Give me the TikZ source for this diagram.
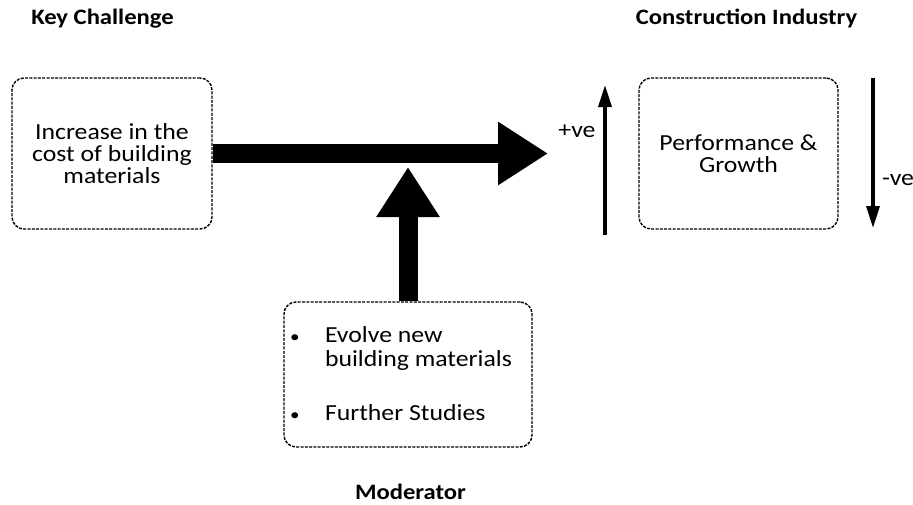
\documentclass[tikz,border=0pt]{standalone}
\usepackage{fontspec}
\setmainfont{Carlito}[FakeStretch=1.12]
\usetikzlibrary{arrows.meta,positioning}

\newcommand{\modbullet}{\hspace*{-2pt}{\fontsize{17}{17}\selectfont\textbullet}}

\begin{document}
\begin{tikzpicture}[x=1pt,y=-1pt]
\tikzset{
  dashbox/.style={draw,rounded corners=12pt,line width=1.4pt,dash pattern=on 3pt off 1.3pt,align=center,inner sep=0pt,font=\fontsize{23}{22}\selectfont},
  heading/.style={anchor=base,font=\fontsize{22}{24}\selectfont\bfseries},
  signtext/.style={font=\fontsize{23}{22}\selectfont},
  blockarrow/.style={line width=19pt,-{Triangle[length=50pt,width=60pt]}},
  signarrow/.style={line width=3.5pt,-{Triangle[length=22pt,width=13pt]}}
}
\useasboundingbox (0,0) rectangle (913,504);
\node[heading] (t_key) at (102.5,24) {Key Challenge};
\node[heading] (t_ind) at (746.5,24) {Construction Industry};
\node[heading] (t_mod) at (410.5,499) {Moderator};
\node[dashbox,minimum width=200pt,minimum height=151pt] (cost) at (112,153.5) {Increase in the\\cost of building\\materials};
\node[dashbox,minimum width=199pt,minimum height=151pt] (perf) at (738.5,153.5) {Performance \&\\Growth};
\node[dashbox,minimum width=248pt,minimum height=145pt,inner xsep=8pt] (moder) at (408,374.5)
  {\begin{tabular}{@{}p{33pt}@{}p{199pt}@{}}
   \rule{0pt}{21.4pt}\modbullet & Evolve new\\[1pt]
   & building materials\\[32pt]
   \modbullet & Further Studies
   \end{tabular}};
\coordinate (mainTip) at (548,153.5);
\coordinate (modTip) at (408,167);
\draw[blockarrow] (cost.east) -- (mainTip);
\draw[blockarrow] (moder.north) -- (modTip);
\coordinate (upLow) at (605,235);
\coordinate (upTop) at (605,85);
\coordinate (downTop) at (873,78);
\coordinate (downLow) at (873,228);
\draw[signarrow] (upLow) -- (upTop);
\draw[signarrow] (downTop) -- (downLow);
\node[signtext] (pos) at (577,131) {+ve};
\node[signtext] (neg) at (898,180) {-ve};
\end{tikzpicture}
\end{document}
